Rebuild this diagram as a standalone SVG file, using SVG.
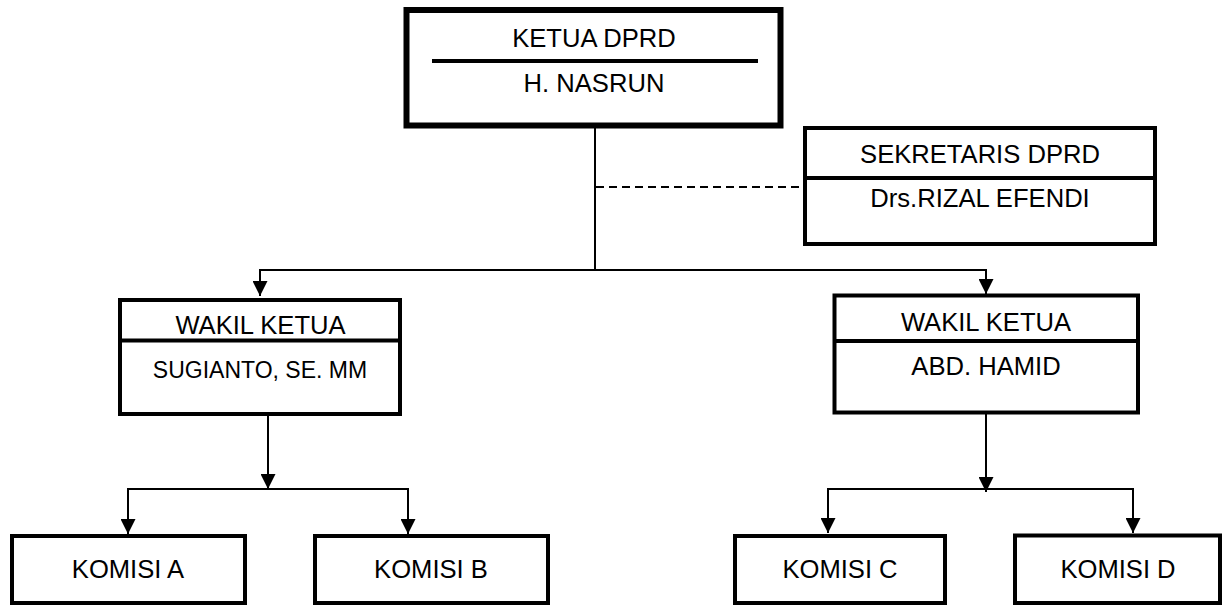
<svg xmlns="http://www.w3.org/2000/svg" width="1222" height="606" viewBox="0 0 1222 606">
<defs>
<style>
.box{fill:#fff;stroke:#000;stroke-width:4}
.thick{stroke-width:6}
.div{stroke:#000;stroke-width:4}
.t{font-family:"Liberation Sans",Arial,sans-serif;font-size:25.6px;fill:#000;text-anchor:middle}
.s{font-size:23px}
.c{fill:none;stroke:#000;stroke-width:2}
.d{fill:none;stroke:#000;stroke-width:2;stroke-dasharray:8 5}
</style>
<marker id="ah" viewBox="0 0 15 15" refX="15" refY="7.5" markerWidth="15" markerHeight="15" markerUnits="userSpaceOnUse" orient="auto">
<path d="M0,0 L15,7.5 L0,15 Z" fill="#000"/>
</marker>
</defs>
<rect width="1222" height="606" fill="#fff"/>
<g id="connectors">
<line class="c" x1="595" y1="128" x2="595" y2="270"/>
<line class="d" x1="596" y1="187" x2="805" y2="187"/>
<line class="c" x1="260" y1="270" x2="986" y2="270"/>
<line class="c" x1="260" y1="269" x2="260" y2="296" marker-end="url(#ah)"/>
<line class="c" x1="986" y1="269" x2="986" y2="294" marker-end="url(#ah)"/>
<line class="c" x1="268" y1="414" x2="268" y2="489" marker-end="url(#ah)"/>
<line class="c" x1="128" y1="489" x2="408" y2="489"/>
<line class="c" x1="128" y1="488" x2="128" y2="534" marker-end="url(#ah)"/>
<line class="c" x1="408" y1="488" x2="408" y2="534" marker-end="url(#ah)"/>
<line class="c" x1="986" y1="412" x2="986" y2="492" marker-end="url(#ah)"/>
<line class="c" x1="828" y1="489" x2="1133" y2="489"/>
<line class="c" x1="828" y1="488" x2="828" y2="533" marker-end="url(#ah)"/>
<line class="c" x1="1133" y1="488" x2="1133" y2="533" marker-end="url(#ah)"/>
</g>
<g id="ketua">
<rect class="box thick" x="406.5" y="10" width="374" height="115.5"/>
<line class="div" x1="432" y1="61" x2="758" y2="61"/>
<text class="t" x="594" y="47">KETUA DPRD</text>
<text class="t" x="594" y="92">H. NASRUN</text>
</g>
<g id="sekretaris">
<rect class="box" x="805" y="128" width="350" height="116"/>
<line class="div" x1="805" y1="178" x2="1155" y2="178"/>
<text class="t" x="980" y="163">SEKRETARIS DPRD</text>
<text class="t" x="980" y="207">Drs.RIZAL EFENDI</text>
</g>
<g id="wakil1">
<rect class="box" x="120" y="300" width="280" height="114"/>
<line class="div" x1="120" y1="340.5" x2="400" y2="340.5"/>
<text class="t" x="260.5" y="334">WAKIL KETUA</text>
<text class="t s" x="260" y="378">SUGIANTO, SE. MM</text>
</g>
<g id="wakil2">
<rect class="box" x="834.5" y="295.5" width="303.5" height="117"/>
<line class="div" x1="834.5" y1="341" x2="1138" y2="341"/>
<text class="t" x="986" y="331">WAKIL KETUA</text>
<text class="t" x="986" y="375">ABD. HAMID</text>
</g>
<g id="komisiA">
<rect class="box" x="12" y="536" width="233" height="67"/>
<text class="t" x="128" y="578">KOMISI A</text>
</g>
<g id="komisiB">
<rect class="box" x="315" y="536" width="233" height="67"/>
<text class="t" x="431" y="578">KOMISI B</text>
</g>
<g id="komisiC">
<rect class="box" x="735" y="536" width="210" height="67"/>
<text class="t" x="840" y="578">KOMISI C</text>
</g>
<g id="komisiD">
<rect class="box" x="1015" y="535.5" width="205" height="67.5"/>
<text class="t" x="1118" y="578">KOMISI D</text>
</g>
</svg>
